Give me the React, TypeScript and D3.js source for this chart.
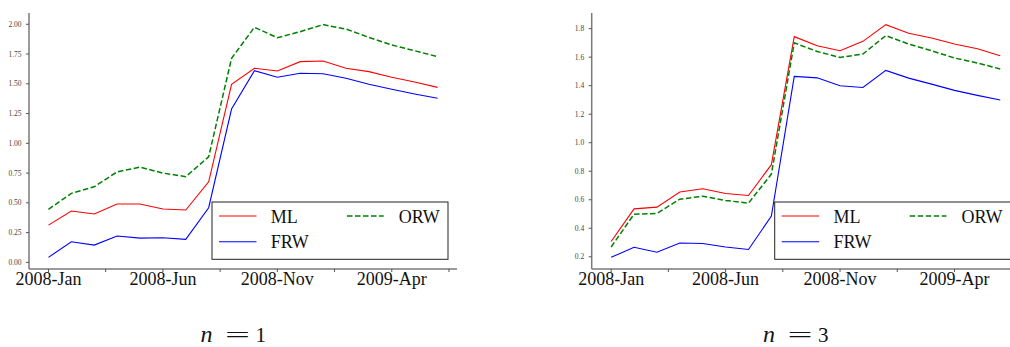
import React from "react";
import * as d3 from "d3";

const months = [
  "2008-Jan", "2008-Feb", "2008-Mar", "2008-Apr", "2008-May", "2008-Jun",
  "2008-Jul", "2008-Aug", "2008-Sep", "2008-Oct", "2008-Nov", "2008-Dec",
  "2009-Jan", "2009-Feb", "2009-Mar", "2009-Apr", "2009-May", "2009-Jun",
];
const tickLabels = ["2008-Jan", "2008-Jun", "2008-Nov", "2009-Apr"];
const seriesNames = ["ML", "FRW", "ORW"];

const mlN1 = [0.313, 0.431, 0.406, 0.49, 0.49, 0.448, 0.44, 0.677, 1.496, 1.63, 1.608, 1.686, 1.692, 1.63, 1.602, 1.555, 1.515, 1.47];
const frwN1 = [0.042, 0.173, 0.145, 0.221, 0.204, 0.207, 0.193, 0.459, 1.288, 1.61, 1.555, 1.588, 1.585, 1.546, 1.496, 1.454, 1.414, 1.378];
const orwN1 = [0.445, 0.58, 0.635, 0.76, 0.8, 0.75, 0.72, 0.887, 1.714, 1.975, 1.887, 1.938, 1.997, 1.96, 1.89, 1.826, 1.778, 1.728];

const mlN3 = [0.307, 0.536, 0.548, 0.654, 0.677, 0.644, 0.63, 0.846, 1.744, 1.68, 1.645, 1.711, 1.828, 1.767, 1.734, 1.692, 1.659, 1.61];
const frwN3 = [0.196, 0.267, 0.232, 0.297, 0.293, 0.269, 0.251, 0.485, 1.465, 1.455, 1.399, 1.387, 1.507, 1.453, 1.411, 1.367, 1.332, 1.3];
const orwN3 = [0.269, 0.499, 0.504, 0.604, 0.625, 0.595, 0.576, 0.78, 1.7, 1.64, 1.598, 1.622, 1.751, 1.692, 1.645, 1.594, 1.559, 1.517];

const yTicksN1 = [0, 0.25, 0.5, 0.75, 1.0, 1.25, 1.5, 1.75, 2.0];
const yTicksN3 = [0.2, 0.4, 0.6, 0.8, 1.0, 1.2, 1.4, 1.6, 1.8];

const FONT = "'Liberation Serif', 'Times New Roman', serif";

type PanelProps = {
  x0: number;
  ml: number[];
  frw: number[];
  orw: number[];
  yTicks: number[];
  yFmt: string;
  caption: string;
  capX: number;
};

function Panel({ x0, ml, frw, orw, yTicks, yFmt, caption, capX }: PanelProps) {
  const top = 13;
  const bottom = 269;
  const width = 428;
  const n = months.length;
  const pad = 0.05 * (n - 1);
  const x = d3.scaleLinear().domain([-pad, n - 1 + pad]).range([x0, x0 + width]);
  const all = [...ml, ...frw, ...orw];
  const [mn, mx] = d3.extent(all) as [number, number];
  const yp = 0.05 * (mx - mn);
  const y = d3.scaleLinear().domain([mn - yp, mx + yp]).range([bottom, top]);
  const line = d3
    .line<number>()
    .x((_, i) => x(i))
    .y((d) => y(d));
  const fmt = d3.format(yFmt);
  const xTicks = d3.range(0, n + 0.5, 2.5).filter((t) => x(t) <= x0 + width);
  const lx = x0 + width - 9 - 236;
  const ly = 202;
  return (
    <g>
      <path d={line(ml) || ""} fill="none" stroke="#ff0000" strokeWidth={1.1} />
      <path d={line(frw) || ""} fill="none" stroke="#0000ff" strokeWidth={1.1} />
      <path d={line(orw) || ""} fill="none" stroke="#008000" strokeWidth={1.5} strokeDasharray="5.5,2.5" />
      <line x1={x0} x2={x0} y1={top} y2={bottom} stroke="#7a7a7a" strokeWidth={1.5} />
      <line x1={x0} x2={x0 + width} y1={bottom} y2={bottom} stroke="#7a7a7a" strokeWidth={1.5} />
      {yTicks.map((t) => (
        <g key={t}>
          <line x1={x0 - 3} x2={x0} y1={y(t)} y2={y(t)} stroke="#555" strokeWidth={1} />
          <text x={x0 - 7.5} y={y(t) + 2.5} textAnchor="end" fontSize={7.5} fill="#444" fontFamily={FONT}>
            {fmt(t)}
          </text>
        </g>
      ))}
      {xTicks.map((t) => (
        <line key={t} x1={x(t)} x2={x(t)} y1={bottom} y2={bottom + 3} stroke="#555" strokeWidth={1} />
      ))}
      {tickLabels.map((lab) => {
        const i = months.indexOf(lab);
        return (
          <text key={lab} x={x(i)} y={285} textAnchor="middle" fontSize={18} fill="#111" fontFamily={FONT}>
            {lab}
          </text>
        );
      })}
      <rect x={lx} y={ly} width={236} height={57.3} fill="#fff" stroke="#222" strokeWidth={1} />
      <line x1={lx + 7} x2={lx + 44.5} y1={216} y2={216} stroke="#ff0000" strokeWidth={1.1} />
      <text x={lx + 58.7} y={223} fontSize={18} fontFamily={FONT} fill="#111">{seriesNames[0]}</text>
      <line x1={lx + 7} x2={lx + 44.5} y1={241.7} y2={241.7} stroke="#0000ff" strokeWidth={1.1} />
      <text x={lx + 58.7} y={248.3} fontSize={18} fontFamily={FONT} fill="#111">{seriesNames[1]}</text>
      <line x1={lx + 135} x2={lx + 171.7} y1={216} y2={216} stroke="#008000" strokeWidth={1.5} strokeDasharray="5.5,2.5" />
      <text x={lx + 186.7} y={223} fontSize={18} fontFamily={FONT} fill="#111">{seriesNames[2]}</text>
      <text x={capX} y={342} fontSize={24} fontFamily={FONT} fill="#111" fontStyle="italic">n</text>
      <text x={capX + 24.5} y={342} fontSize={21} fontFamily={FONT} fill="#111" textLength={25} lengthAdjust="spacingAndGlyphs">=</text>
      <text x={capX + 55} y={342} fontSize={21} fontFamily={FONT} fill="#111">{caption}</text>
    </g>
  );
}

export default function App() {
  return (
    <svg
      width={1010}
      height={347}
      style={{ position: "absolute", left: 0, top: 0, display: "block", background: "#fff" }}
    >
      <rect x={0} y={0} width={1010} height={347} fill="#fff" />
      <Panel x0={29} ml={mlN1} frw={frwN1} orw={orwN1} yTicks={yTicksN1} yFmt=".2f" caption="1" capX={200.5} />
      <Panel x0={591.7} ml={mlN3} frw={frwN3} orw={orwN3} yTicks={yTicksN3} yFmt=".1f" caption="3" capX={763} />
    </svg>
  );
}
